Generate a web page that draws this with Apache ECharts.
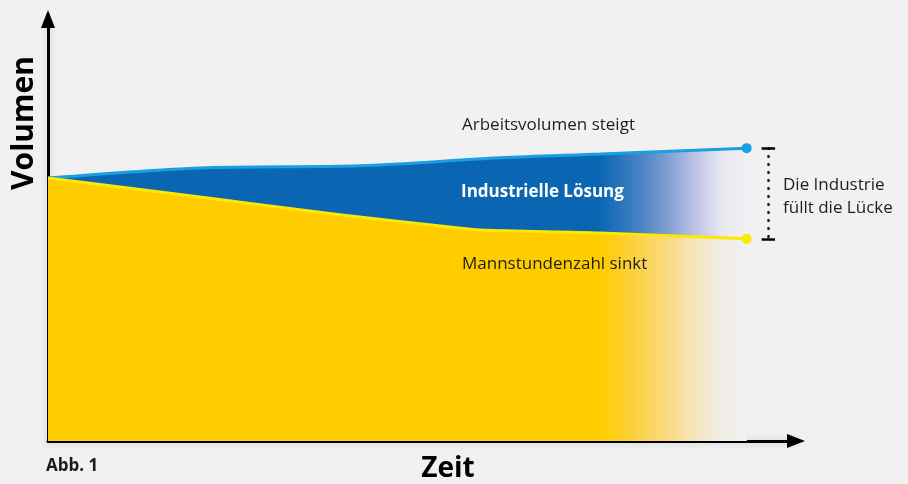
<!DOCTYPE html>
<html>
<head>
<meta charset="utf-8">
<script src="https://cdn.jsdelivr.net/npm/echarts@6/dist/echarts.min.js"></script>
<style>
html,body{margin:0;padding:0;background:#f1f1f1;}
#chart{width:908px;height:484px;}
</style>
</head>
<body>
<div id="chart"></div>
<script>
// Arbeitsvolumen (upper line) and Mannstundenzahl (lower line), schematic units 0..100
var upperX = [0, 20.3, 41.7, 60.4, 73.8, 93.4];
var upperY = [62.3, 64.7, 65.2, 67.1, 68.0, 69.4];
var lowerX = [0, 20.3, 39.0, 53.7, 57.8, 73.8, 93.4];
var lowerY = [62.3, 57.8, 53.6, 50.7, 50.0, 49.3, 47.9];
var bracketX = 96.3;
var bracketHalf = 0.9;

var labelUpper = 'Arbeitsvolumen steigt';
var labelBand = 'Industrielle Lösung';
var labelLower = 'Mannstundenzahl sinkt';
var labelGap = ['Die Industrie', 'füllt die Lücke'];
var axisNameY = 'Volumen';
var axisNameX = 'Zeit';
var caption = 'Abb. 1';

function pairs(xs, ys){ return xs.map(function(x,i){ return [x, ys[i]]; }); }
var upperData = pairs(upperX, upperY);
var lowerData = pairs(lowerX, lowerY);
var upEnd = upperY[upperY.length-1];
var loEnd = lowerY[lowerY.length-1];

function lastDot(n){ return function(v, p){ return p.dataIndex === n-1 ? 10 : 0; }; }

var chart = echarts.init(document.getElementById('chart'));
var font = '"Open Sans", "Noto Sans", sans-serif';
var axisLineStyle = {color:'#000', width:3, shadowBlur:8, shadowColor:'rgba(0,0,0,0.18)'};

chart.setOption({
  backgroundColor:'#f1f1f1',
  animation:false,
  grid:{left:48, right:112, top:19, bottom:43},
  xAxis:{type:'value', min:0, max:100,
    axisLine:{show:true, symbol:['none','triangle'], symbolSize:[14,18], lineStyle:axisLineStyle},
    axisTick:{show:false}, axisLabel:{show:false}, splitLine:{show:false}},
  yAxis:{type:'value', min:0, max:100,
    axisLine:{show:true, symbol:['none','triangle'], symbolSize:[14,18], lineStyle:axisLineStyle},
    axisTick:{show:false}, axisLabel:{show:false}, splitLine:{show:false}},
  series:[
    {type:'line', name:'Arbeitsvolumen', data:upperData, smooth:0.3, z:2,
      symbol:'circle', symbolSize:lastDot(upperData.length),
      itemStyle:{color:'#1a9fe2'},
      lineStyle:{color:'#1a9fe2', width:3},
      areaStyle:{opacity:1, color:new echarts.graphic.LinearGradient(0,0,1,0,[
        {offset:0, color:'#0a66b3'},
        {offset:0.79, color:'#0a66b3'},
        {offset:0.84, color:'#3f7fc2'},
        {offset:0.88, color:'#7598cf'},
        {offset:0.93, color:'#c2c6e5'},
        {offset:0.965, color:'#e9e9f2'},
        {offset:1, color:'#efeff3'}])},
      markLine:{silent:true, symbol:'none', label:{show:false},
        lineStyle:{color:'#000', width:2.5, type:'solid'},
        data:[
          [{coord:[bracketX-bracketHalf, upEnd]},{coord:[bracketX+bracketHalf, upEnd]}],
          [{coord:[bracketX-bracketHalf, loEnd]},{coord:[bracketX+bracketHalf, loEnd]}],
          [{coord:[bracketX, upEnd], lineStyle:{type:[0.5,7.5], cap:'round', width:2.5}},
           {coord:[bracketX, loEnd]}]
        ]}
    },
    {type:'line', name:'Mannstunden', data:lowerData, smooth:0.3, z:3,
      symbol:'circle', symbolSize:lastDot(lowerData.length),
      itemStyle:{color:'#ffe800'},
      lineStyle:{color:'#ffe800', width:3},
      areaStyle:{opacity:1, color:new echarts.graphic.LinearGradient(0,0,1,0,[
        {offset:0, color:'#ffcc00'},
        {offset:0.79, color:'#ffcc00'},
        {offset:0.84, color:'#fdd140'},
        {offset:0.88, color:'#fad878'},
        {offset:0.92, color:'#f6e4b4'},
        {offset:0.96, color:'#f1ece4'},
        {offset:1, color:'#f1f1f1'}])}
    }
  ],
  graphic:[
    {type:'text', x:462, y:125, z:10, style:{text:labelUpper, font:'17px '+font, fill:'#1e1e1e', verticalAlign:'middle'}},
    {type:'text', x:461, y:192, z:10, style:{text:labelBand, font:'bold 17px '+font, fill:'#ffffff', verticalAlign:'middle'}},
    {type:'text', x:462, y:264, z:10, style:{text:labelLower, font:'17px '+font, fill:'#1e1e1e', verticalAlign:'middle'}},
    {type:'text', x:783, y:185, z:10, style:{text:labelGap[0], font:'17px '+font, fill:'#1e1e1e', verticalAlign:'middle'}},
    {type:'text', x:783, y:208, z:10, style:{text:labelGap[1], font:'17px '+font, fill:'#1e1e1e', verticalAlign:'middle'}},
    {type:'text', x:24, y:123, rotation:Math.PI/2, z:10, style:{text:axisNameY, font:'bold 30px '+font, fill:'#000', align:'center', verticalAlign:'middle'}},
    {type:'text', x:448, y:469, z:10, style:{text:axisNameX, font:'bold 28px '+font, fill:'#000', align:'center', verticalAlign:'middle'}},
    {type:'text', x:46, y:466, z:10, style:{text:caption, font:'bold 17px '+font, fill:'#1a1a1a', verticalAlign:'middle'}}
  ]
});
</script>
</body>
</html>
